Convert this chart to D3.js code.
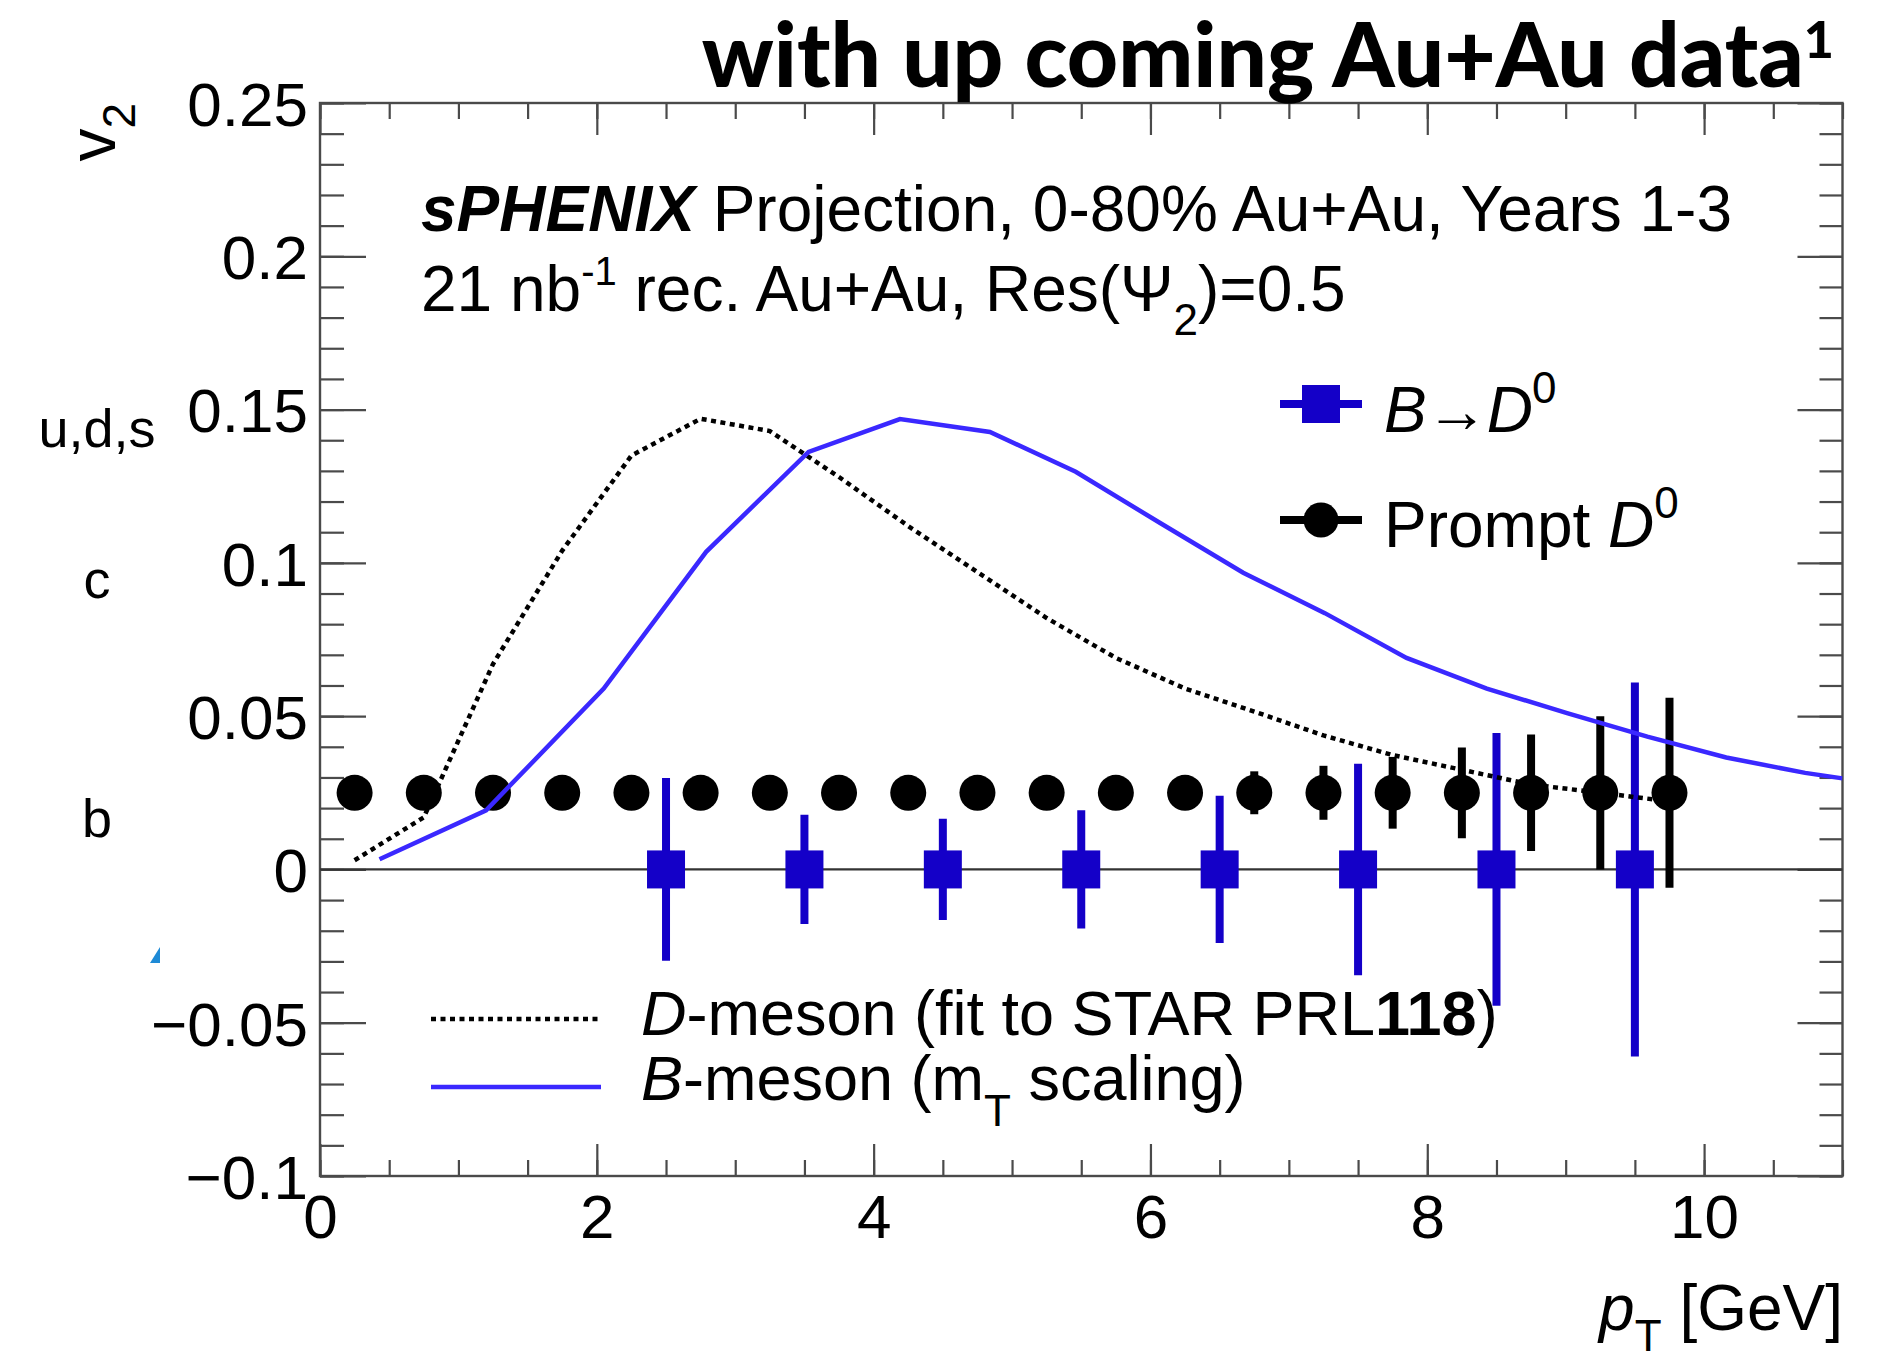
<!DOCTYPE html>
<html>
<head>
<meta charset="utf-8">
<script src="https://cdn.jsdelivr.net/npm/d3@7"></script>
<style>
  body { margin: 0; background: #fff; }
  svg text { font-family: "Liberation Sans", Arial, Helvetica, sans-serif; fill: #000; }
  .title { font-family: Lato, "Open Sans", sans-serif; font-weight: 900; }
</style>
</head>
<body>
<svg id="chart" width="1890" height="1362"></svg>
<script>
/* sPHENIX v2 projection: prompt D0 and B->D0 with model curves */

// Prompt D0 projected points
const promptPt = [0.25, 0.75, 1.25, 1.75, 2.25, 2.75, 3.25, 3.75, 4.25, 4.75,
                  5.25, 5.75, 6.25, 6.75, 7.25, 7.75, 8.25, 8.75, 9.25, 9.75];
const promptV2 = [0.025, 0.025, 0.025, 0.025, 0.025, 0.025, 0.025, 0.025, 0.025, 0.025,
                  0.025, 0.025, 0.025, 0.025, 0.025, 0.025, 0.025, 0.025, 0.025, 0.025];
const promptErr = [0.001, 0.001, 0.001, 0.001, 0.001, 0.001, 0.001, 0.002, 0.002, 0.002,
                   0.003, 0.004, 0.005, 0.007, 0.0088, 0.0117, 0.0148, 0.019, 0.025, 0.031];

// B -> D0 projected points
const bdPt = [2.5, 3.5, 4.5, 5.5, 6.5, 7.5, 8.5, 9.5];
const bdV2 = [0, 0, 0, 0, 0, 0, 0, 0];
const bdErr = [0.0298, 0.0178, 0.0165, 0.0193, 0.024, 0.0345, 0.0445, 0.061];

// D-meson fit to STAR PRL118 (dotted)
const dFitPt = [0.25, 0.75, 1.25, 1.75, 2.25, 2.75, 3.25, 3.75, 4.25, 4.75,
                5.25, 5.75, 6.25, 6.75, 7.25, 7.75, 8.25, 8.75, 9.25, 9.75];
const dFitV2 = [0.003, 0.017, 0.067, 0.104, 0.135, 0.147, 0.143, 0.128, 0.112, 0.097,
                0.082, 0.069, 0.059, 0.0515, 0.0437, 0.0373, 0.0325, 0.0277, 0.025, 0.0222];

// B-meson from mT scaling (solid blue)
const bFitPt = [0.43, 1.2, 2.05, 2.79, 3.53, 4.19, 4.84, 5.46, 6.07, 6.67,
                7.26, 7.85, 8.43, 9.01, 9.59, 10.16, 10.73, 11.0];
const bFitV2 = [0.0033, 0.0193, 0.059, 0.1036, 0.1362, 0.1469, 0.1427, 0.1297, 0.113, 0.0968,
                0.0836, 0.069, 0.059, 0.051, 0.0433, 0.0365, 0.0315, 0.0297];

// axes
const yTicks = [-0.1, -0.05, 0, 0.05, 0.1, 0.15, 0.2, 0.25];
const yTickLabels = ["\u22120.1", "\u22120.05", "0", "0.05", "0.1", "0.15", "0.2", "0.25"];
const xTicks = [0, 2, 4, 6, 8, 10];
const xTickLabels = ["0", "2", "4", "6", "8", "10"];

// quark-flavour tags on the left margin, anchored at v2 value of their baseline
const quarkLabels = ["u,d,s", "c", "b"];
const quarkLabelV2 = [0.1377, 0.0885, 0.0106];

const BLUE_LINE = "#3a28ff";
const BLUE_MARK = "#1400c8";
const FRAME = "#4a4a4a";

const svg = d3.select("#chart");
const plot = { left: 320, right: 1842.5, top: 103, bottom: 1176 };

const x = d3.scaleLinear([0, 11], [plot.left, plot.right]);
const y = d3.scaleLinear([-0.1, 0.25], [plot.bottom, plot.top]);

svg.append("defs").append("clipPath").attr("id", "clip")
  .append("rect")
  .attr("x", plot.left).attr("y", plot.top)
  .attr("width", plot.right - plot.left).attr("height", plot.bottom - plot.top);

/* --- rich text helper ---------------------------------------------------- */
// segs: [text, opts] ; opts: {i, b, sup, sub, size}
function richText(g, px, py, size, segs, anchor) {
  const t = g.append("text").attr("x", px).attr("y", py)
    .attr("font-size", size).attr("text-anchor", anchor || "start");
  let shift = 0;
  segs.forEach(([s, o = {}]) => {
    let target = 0;
    if (o.sup) target = -o.sup * size;
    if (o.sub) target = o.sub * size;
    const sp = t.append("tspan").text(s).attr("dy", target - shift);
    shift = target;
    if (o.i) sp.attr("font-style", "italic");
    if (o.b) sp.attr("font-weight", "bold");
    if (o.size) sp.attr("font-size", o.size);
  });
  return t;
}

/* --- frame + axes -------------------------------------------------------- */
const minorY = d3.range(-10, 26).map(i => i / 100);
const minorX = d3.range(0, 23).map(i => i / 2);

function styleAxis(g) {
  g.select(".domain").remove();
  g.selectAll(".tick line").attr("stroke", FRAME).attr("stroke-width", 2.2);
  g.selectAll(".tick text").attr("font-size", 62).attr("fill", "#000")
    .attr("font-family", '"Liberation Sans", Arial, sans-serif');
}

// left
svg.append("g").attr("transform", `translate(${plot.left},0)`)
  .call(d3.axisLeft(y).tickValues(minorY).tickSize(-24).tickFormat(""))
  .call(styleAxis);
svg.append("g").attr("transform", `translate(${plot.left},0)`)
  .call(d3.axisLeft(y).tickValues(yTicks).tickSize(-46).tickPadding(12)
    .tickFormat((d, i) => yTickLabels[i]))
  .call(styleAxis)
  .call(g => g.selectAll(".tick text").attr("dy", "0.36em"));
// right
svg.append("g").attr("transform", `translate(${plot.right},0)`)
  .call(d3.axisRight(y).tickValues(minorY).tickSize(-23).tickFormat(""))
  .call(styleAxis);
svg.append("g").attr("transform", `translate(${plot.right},0)`)
  .call(d3.axisRight(y).tickValues(yTicks).tickSize(-45).tickFormat(""))
  .call(styleAxis);
// bottom
svg.append("g").attr("transform", `translate(0,${plot.bottom})`)
  .call(d3.axisBottom(x).tickValues(minorX).tickSize(-16).tickFormat(""))
  .call(styleAxis);
svg.append("g").attr("transform", `translate(0,${plot.bottom})`)
  .call(d3.axisBottom(x).tickValues(xTicks).tickSize(-32).tickPadding(18)
    .tickFormat((d, i) => xTickLabels[i]))
  .call(styleAxis);
// top
svg.append("g").attr("transform", `translate(0,${plot.top})`)
  .call(d3.axisTop(x).tickValues(minorX).tickSize(-16).tickFormat(""))
  .call(styleAxis);
svg.append("g").attr("transform", `translate(0,${plot.top})`)
  .call(d3.axisTop(x).tickValues(xTicks).tickSize(-32).tickFormat(""))
  .call(styleAxis);

svg.append("rect")
  .attr("x", plot.left).attr("y", plot.top)
  .attr("width", plot.right - plot.left).attr("height", plot.bottom - plot.top)
  .attr("fill", "none").attr("stroke", FRAME).attr("stroke-width", 2.4);

// zero line
svg.append("line")
  .attr("x1", plot.left).attr("x2", plot.right)
  .attr("y1", y(0)).attr("y2", y(0))
  .attr("stroke", "#333").attr("stroke-width", 2.2);

/* --- data points --------------------------------------------------------- */
const pts = svg.append("g").attr("clip-path", "url(#clip)");

const bd = bdPt.map((p, i) => ({ p, v: bdV2[i], e: bdErr[i] }));
pts.append("g").selectAll("line").data(bd).join("line")
  .attr("x1", d => x(d.p)).attr("x2", d => x(d.p))
  .attr("y1", d => y(d.v - d.e)).attr("y2", d => y(d.v + d.e))
  .attr("stroke", BLUE_MARK).attr("stroke-width", 8);
pts.append("g").selectAll("rect").data(bd).join("rect")
  .attr("x", d => x(d.p) - 19).attr("y", d => y(d.v) - 19)
  .attr("width", 38).attr("height", 38)
  .attr("fill", BLUE_MARK);

const pr = promptPt.map((p, i) => ({ p, v: promptV2[i], e: promptErr[i] }));
pts.append("g").selectAll("line").data(pr).join("line")
  .attr("x1", d => x(d.p)).attr("x2", d => x(d.p))
  .attr("y1", d => y(d.v - d.e)).attr("y2", d => y(d.v + d.e))
  .attr("stroke", "#000").attr("stroke-width", 8);
pts.append("g").selectAll("circle").data(pr).join("circle")
  .attr("cx", d => x(d.p)).attr("cy", d => y(d.v)).attr("r", 18)
  .attr("fill", "#000");

/* --- model curves -------------------------------------------------------- */
const line = d3.line().x(d => x(d[0])).y(d => y(d[1]));
const curves = svg.append("g").attr("clip-path", "url(#clip)");
curves.append("path")
  .datum(dFitPt.map((p, i) => [p, dFitV2[i]]))
  .attr("d", line).attr("fill", "none")
  .attr("stroke", "#000").attr("stroke-width", 4.5).attr("stroke-dasharray", "5 4.5");
curves.append("path")
  .datum(bFitPt.map((p, i) => [p, bFitV2[i]]))
  .attr("d", line).attr("fill", "none")
  .attr("stroke", BLUE_LINE).attr("stroke-width", 4.5);

/* --- axis titles + margin tags ------------------------------------------- */
const ytitle = svg.append("g").attr("transform", "translate(115,103) rotate(-90)");
richText(ytitle, 0, 0, 66, [["v"], ["2", { sub: 0.3, size: 46 }]], "end");

richText(svg, 1843, 1330, 64, [["p", { i: true }], ["T", { sub: 0.33, size: 44 }], [" [GeV]"]], "end");

svg.append("g").selectAll("text").data(quarkLabels).join("text")
  .attr("x", 97).attr("y", (d, i) => y(quarkLabelV2[i]))
  .attr("text-anchor", "middle").attr("font-size", 54)
  .text(d => d);

// small blue mark left over on the slide
svg.append("path").attr("d", "M150,963L160,963L160,947Z").attr("fill", "#1e8ad6");

/* --- header texts -------------------------------------------------------- */
richText(svg, 1834, 87, 89, [["with up coming Au+Au data"], ["1", { sup: 0.33, size: 52 }]], "end")
  .attr("class", "title");

richText(svg, 421, 231, 64, [["sPHENIX", { i: true, b: true }], [" Projection, 0-80% Au+Au, Years 1-3"]]);
richText(svg, 421, 311, 64, [["21 nb"], ["-1", { sup: 0.4, size: 40 }],
  [" rec. Au+Au, Res(\u03A8"], ["2", { sub: 0.38, size: 44 }], [")=0.5"]]);

/* --- legends ------------------------------------------------------------- */
const lg = svg.append("g");
// B -> D0
lg.append("line").attr("x1", 1280).attr("x2", 1362).attr("y1", 404).attr("y2", 404)
  .attr("stroke", BLUE_MARK).attr("stroke-width", 8);
lg.append("rect").attr("x", 1302).attr("y", 385).attr("width", 38).attr("height", 38)
  .attr("fill", BLUE_MARK);
richText(lg, 1384, 432, 64, [["B", { i: true }], ["\u2192", { size: 62 }], ["D", { i: true }], ["0", { sup: 0.45, size: 44 }]])
  .attr("letter-spacing", -1);
// Prompt D0
lg.append("line").attr("x1", 1280).attr("x2", 1362).attr("y1", 520).attr("y2", 520)
  .attr("stroke", "#000").attr("stroke-width", 8);
lg.append("circle").attr("cx", 1321).attr("cy", 520).attr("r", 17.5).attr("fill", "#000");
richText(lg, 1384, 547, 64, [["Prompt  "], ["D", { i: true }], ["0", { sup: 0.45, size: 44 }]]);

// model curves legend
lg.append("line").attr("x1", 431).attr("x2", 601).attr("y1", 1019).attr("y2", 1019)
  .attr("stroke", "#000").attr("stroke-width", 4.5).attr("stroke-dasharray", "5 4.5");
lg.append("line").attr("x1", 431).attr("x2", 601).attr("y1", 1087).attr("y2", 1087)
  .attr("stroke", BLUE_LINE).attr("stroke-width", 4.5);
richText(lg, 641, 1035, 63, [["D", { i: true }], ["-meson (fit to STAR PRL"], ["118", { b: true }], [")"]]);
richText(lg, 641, 1100, 63, [["B", { i: true }], ["-meson (m"], ["T", { sub: 0.42, size: 44 }], [" scaling)"]]);
</script>
</body>
</html>
